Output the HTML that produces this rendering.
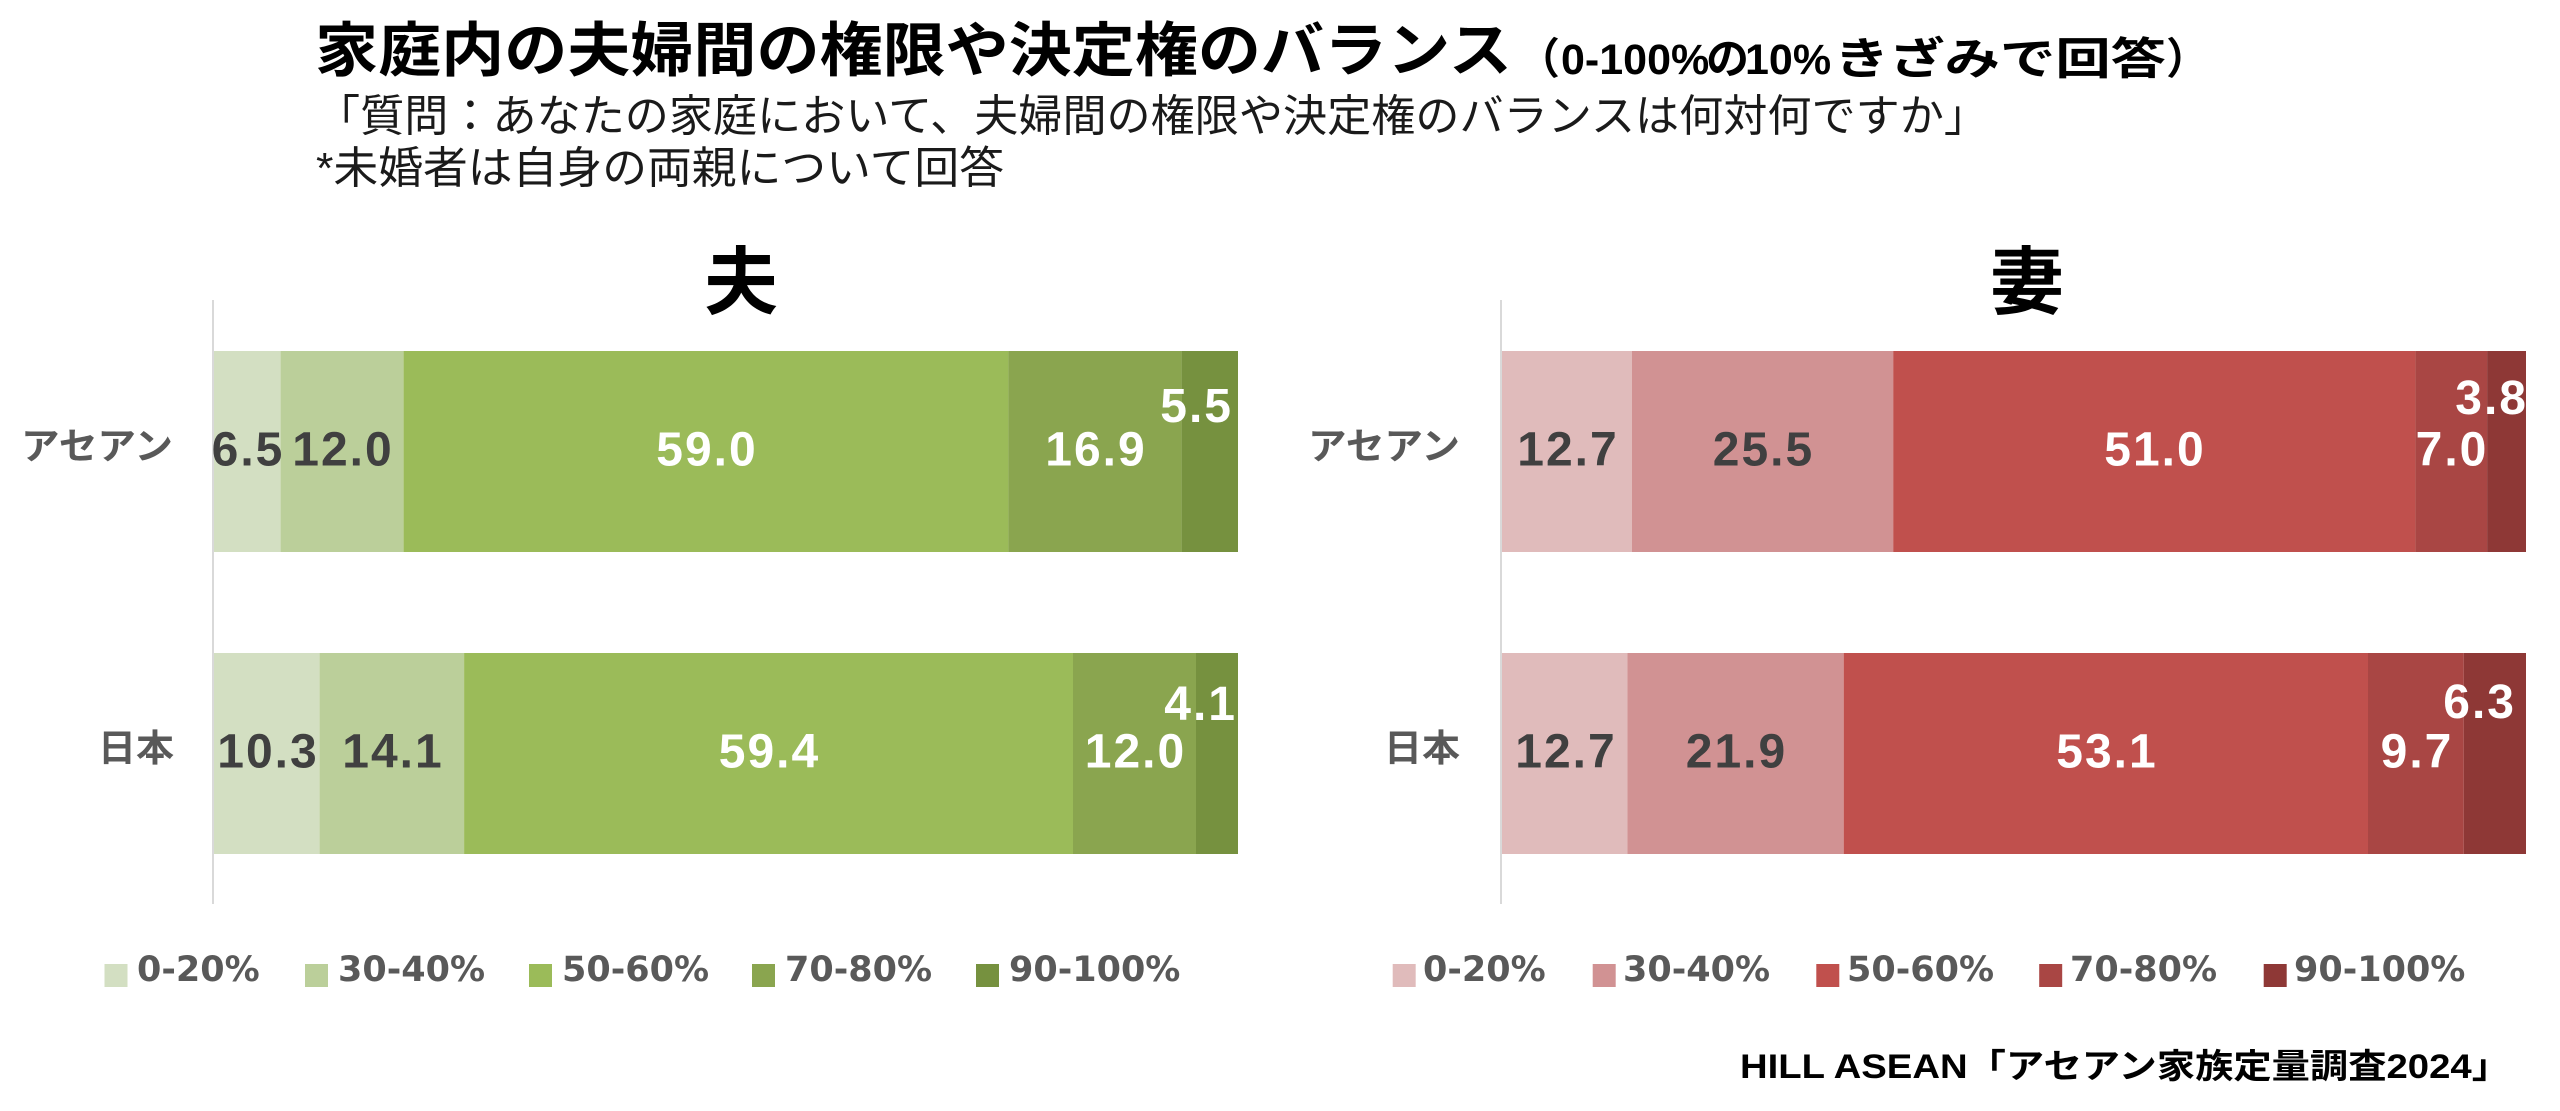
<!DOCTYPE html>
<html><head><meta charset="utf-8"><style>
html,body{margin:0;padding:0;background:#fff;}
svg{display:block;}
.jp{font-family:"Liberation Sans","Noto Sans CJK JP",sans-serif;}
.num{font-family:"Liberation Sans",sans-serif;font-weight:700;font-size:48px;letter-spacing:2px;}
.lg{font-family:"DejaVu Sans","Liberation Sans",sans-serif;font-weight:700;font-size:35px;fill:#595959;}
.cat{font-family:"Liberation Sans","Noto Sans CJK JP",sans-serif;font-weight:700;font-size:37px;fill:#595959;}
</style></head><body>
<svg width="2560" height="1111" viewBox="0 0 2560 1111" xmlns="http://www.w3.org/2000/svg">
<rect width="2560" height="1111" fill="#fff"/>

<!-- Titles -->
<text class="jp" x="315" y="71" font-size="59" font-weight="700" fill="#000" textLength="1197" lengthAdjust="spacingAndGlyphs">家庭内の夫婦間の権限や決定権のバランス</text>
<text class="jp" x="1517" y="74" font-size="43" font-weight="700" fill="#000">（</text>
<text class="jp" x="1561" y="74" font-size="43" font-weight="700" fill="#000">0-100%</text>
<text class="jp" x="1706" y="74" font-size="43" font-weight="700" fill="#000">の</text>
<text class="jp" x="1745" y="74" font-size="43" font-weight="700" fill="#000">10%</text>
<text class="jp" x="1834" y="74" font-size="44" font-weight="700" fill="#000" textLength="332" lengthAdjust="spacingAndGlyphs">きざみで回答</text>
<text class="jp" x="2166" y="74" font-size="43" font-weight="700" fill="#000">）</text>

<text class="jp" x="316" y="131" font-size="44" fill="#1a1a1a" textLength="1672" lengthAdjust="spacingAndGlyphs">「質問：あなたの家庭において、夫婦間の権限や決定権のバランスは何対何ですか」</text>
<text class="jp" x="316" y="183" font-size="44" fill="#1a1a1a" textLength="688" lengthAdjust="spacingAndGlyphs">*未婚者は自身の両親について回答</text>

<text class="jp" x="741" y="308" font-size="74" font-weight="700" fill="#000" text-anchor="middle">夫</text>
<text class="jp" x="2027" y="308" font-size="74" font-weight="700" fill="#000" text-anchor="middle">妻</text>

<!-- Left chart -->
<rect x="212" y="300" width="2" height="604" fill="#d9d9d9"/>
<rect x="214" y="351" width="66.6" height="201" fill="#D3DFC2"/>
<rect x="280.6" y="351" width="123" height="201" fill="#BBCF9A"/>
<rect x="403.6" y="351" width="604.8" height="201" fill="#9BBB59"/>
<rect x="1008.4" y="351" width="173.2" height="201" fill="#8AA54F"/>
<rect x="1181.6" y="351" width="56.4" height="201" fill="#76913F"/>
<rect x="214" y="653" width="105.6" height="201" fill="#D3DFC2"/>
<rect x="319.6" y="653" width="144.5" height="201" fill="#BBCF9A"/>
<rect x="464.1" y="653" width="608.9" height="201" fill="#9BBB59"/>
<rect x="1073" y="653" width="123" height="201" fill="#8AA54F"/>
<rect x="1196" y="653" width="42" height="201" fill="#76913F"/>

<text class="cat" x="21" y="459" textLength="152" lengthAdjust="spacingAndGlyphs">アセアン</text>
<text class="cat" x="98" y="761" textLength="76" lengthAdjust="spacingAndGlyphs">日本</text>

<text class="num" x="248" y="465.5" text-anchor="middle" fill="#404040">6.5</text>
<text class="num" x="343" y="465.5" text-anchor="middle" fill="#404040">12.0</text>
<text class="num" x="707" y="465.5" text-anchor="middle" fill="#fff">59.0</text>
<text class="num" x="1096" y="465.5" text-anchor="middle" fill="#fff">16.9</text>
<text class="num" x="1233" y="422" text-anchor="end" fill="#fff">5.5</text>

<text class="num" x="268" y="767.5" text-anchor="middle" fill="#404040">10.3</text>
<text class="num" x="393" y="767.5" text-anchor="middle" fill="#404040">14.1</text>
<text class="num" x="769.5" y="767.5" text-anchor="middle" fill="#fff">59.4</text>
<text class="num" x="1135.5" y="767.5" text-anchor="middle" fill="#fff">12.0</text>
<text class="num" x="1237" y="720" text-anchor="end" fill="#fff">4.1</text>

<!-- Left legend -->
<rect x="104.5" y="964" width="23" height="23" fill="#D3DFC2"/>
<text class="lg" x="137" y="981">0-20%</text>
<rect x="305" y="964" width="23" height="23" fill="#BBCF9A"/>
<text class="lg" x="338" y="981">30-40%</text>
<rect x="529" y="964" width="23" height="23" fill="#9BBB59"/>
<text class="lg" x="562" y="981">50-60%</text>
<rect x="752" y="964" width="23" height="23" fill="#8AA54F"/>
<text class="lg" x="785" y="981">70-80%</text>
<rect x="976" y="964" width="23" height="23" fill="#76913F"/>
<text class="lg" x="1009" y="981">90-100%</text>

<!-- Right chart -->
<rect x="1500" y="300" width="2" height="604" fill="#d9d9d9"/>
<rect x="1502" y="351" width="130" height="201" fill="#E0BBBB"/>
<rect x="1632" y="351" width="261.2" height="201" fill="#D19293"/>
<rect x="1893.2" y="351" width="522.2" height="201" fill="#C0504D"/>
<rect x="2415.4" y="351" width="71.7" height="201" fill="#A94644"/>
<rect x="2487.1" y="351" width="38.9" height="201" fill="#8E3836"/>

<rect x="1502" y="653" width="125.4" height="201" fill="#E0BBBB"/>
<rect x="1627.4" y="653" width="216.3" height="201" fill="#D19293"/>
<rect x="1843.7" y="653" width="524.3" height="201" fill="#C0504D"/>
<rect x="2368" y="653" width="95.8" height="201" fill="#A94644"/>
<rect x="2463.8" y="653" width="62.2" height="201" fill="#8E3836"/>

<text class="cat" x="1308" y="459" textLength="152" lengthAdjust="spacingAndGlyphs">アセアン</text>
<text class="cat" x="1384" y="761" textLength="76" lengthAdjust="spacingAndGlyphs">日本</text>

<text class="num" x="1568" y="465.5" text-anchor="middle" fill="#404040">12.7</text>
<text class="num" x="1763.5" y="465.5" text-anchor="middle" fill="#404040">25.5</text>
<text class="num" x="2155" y="465.5" text-anchor="middle" fill="#fff">51.0</text>
<text class="num" x="2452" y="465.5" text-anchor="middle" fill="#fff">7.0</text>
<text class="num" x="2528" y="414" text-anchor="end" fill="#fff">3.8</text>

<text class="num" x="1566" y="767.5" text-anchor="middle" fill="#404040">12.7</text>
<text class="num" x="1736.5" y="767.5" text-anchor="middle" fill="#404040">21.9</text>
<text class="num" x="2107" y="767.5" text-anchor="middle" fill="#fff">53.1</text>
<text class="num" x="2417" y="767.5" text-anchor="middle" fill="#fff">9.7</text>
<text class="num" x="2516" y="718" text-anchor="end" fill="#fff">6.3</text>

<!-- Right legend -->
<rect x="1392.7" y="964" width="23" height="23" fill="#E0BBBB"/>
<text class="lg" x="1423" y="981">0-20%</text>
<rect x="1592.7" y="964" width="23" height="23" fill="#D19293"/>
<text class="lg" x="1623" y="981">30-40%</text>
<rect x="1816.3" y="964" width="23" height="23" fill="#C0504D"/>
<text class="lg" x="1847" y="981">50-60%</text>
<rect x="2039.2" y="964" width="23" height="23" fill="#A94644"/>
<text class="lg" x="2070" y="981">70-80%</text>
<rect x="2263.7" y="964" width="23" height="23" fill="#8E3836"/>
<text class="lg" x="2294" y="981">90-100%</text>

<!-- Footer -->
<text class="jp" x="1740" y="1078" font-size="34" font-weight="700" fill="#000" textLength="770" lengthAdjust="spacingAndGlyphs">HILL ASEAN「アセアン家族定量調査2024」</text>
</svg>
</body></html>
